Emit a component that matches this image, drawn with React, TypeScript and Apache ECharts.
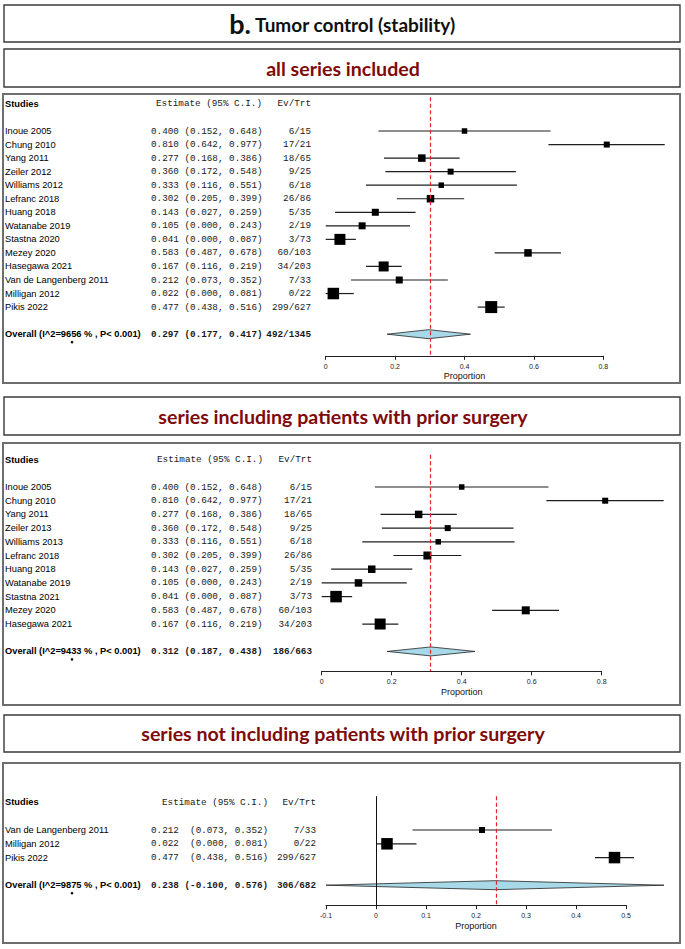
import React, { useEffect, useRef } from "react";
import * as echarts from "echarts";

// ---------- data ----------
const allStudies = ["Inoue 2005", "Chung 2010", "Yang 2011", "Zeiler 2012", "Williams 2012", "Lefranc 2018", "Huang 2018", "Watanabe 2019", "Stastna 2020", "Mezey 2020", "Hasegawa 2021", "Van de Langenberg 2011", "Milligan 2012", "Pikis 2022"];
const allEst = [0.4, 0.81, 0.277, 0.36, 0.333, 0.302, 0.143, 0.105, 0.041, 0.583, 0.167, 0.212, 0.022, 0.477];
const allLow = [0.152, 0.642, 0.168, 0.172, 0.116, 0.205, 0.027, 0.0, 0.0, 0.487, 0.116, 0.073, 0.0, 0.438];
const allHigh = [0.648, 0.977, 0.386, 0.548, 0.551, 0.399, 0.259, 0.243, 0.087, 0.678, 0.219, 0.352, 0.081, 0.516];
const allEvents = ["6/15", "17/21", "18/65", "9/25", "6/18", "26/86", "5/35", "2/19", "3/73", "60/103", "34/203", "7/33", "0/22", "299/627"];
const allWeights = [5.5, 6, 7.5, 6, 5.5, 7.5, 7, 7, 11, 7.5, 10, 7, 11.5, 12];

const priorStudies = ["Inoue 2005", "Chung 2010", "Yang 2011", "Zeiler 2013", "Williams 2013", "Lefranc 2018", "Huang 2018", "Watanabe 2019", "Stastna 2021", "Mezey 2020", "Hasegawa 2021"];
const priorEst = [0.4, 0.81, 0.277, 0.36, 0.333, 0.302, 0.143, 0.105, 0.041, 0.583, 0.167];
const priorLow = [0.152, 0.642, 0.168, 0.172, 0.116, 0.205, 0.027, 0.0, 0.0, 0.487, 0.116];
const priorHigh = [0.648, 0.977, 0.386, 0.548, 0.551, 0.399, 0.259, 0.243, 0.087, 0.678, 0.219];
const priorEvents = ["6/15", "17/21", "18/65", "9/25", "6/18", "26/86", "5/35", "2/19", "3/73", "60/103", "34/203"];
const priorWeights = [5.5, 6, 7.5, 6, 5.5, 8, 7.5, 7.5, 11.5, 8, 11];

const noPriorStudies = ["Van de Langenberg 2011", "Milligan 2012", "Pikis 2022"];
const noPriorEst = [0.212, 0.022, 0.477];
const noPriorLow = [0.073, 0.0, 0.438];
const noPriorHigh = [0.352, 0.081, 0.516];
const noPriorEvents = ["7/33", "0/22", "299/627"];
const noPriorWeights = [6, 11.5, 11.5];

const overallEst = [0.297, 0.312, 0.238];
const overallLow = [0.177, 0.187, -0.1];
const overallHigh = [0.417, 0.438, 0.576];
const overallEvents = ["492/1345", "186/663", "306/682"];
const overallI2 = ["9656", "9433", "9875"];

const mainTitleLetter = "b.";
const mainTitle = "Tumor control (stability)";
const panelTitles = ["all series included", "series including patients with prior surgery", "series not including patients with prior surgery"];
const axisName = "Proportion";

// ---------- layout ----------
const FONT_SANS = '"Liberation Sans", Arial, Helvetica, sans-serif';
const FONT_MONO = '"Liberation Mono", "Courier New", monospace';
const FONT_HEAD = 'Lato, "Open Sans", sans-serif';

const layouts = [
  { left: 325.7, width: 277.6, top: 97.15, height: 258.7, yMin: -2.5, yMax: 16.6, xMin: 0, xMax: 0.8, interval: 0.2, estX: 151, estHeadX: 156, evX: 311, sep: " ", zero: false },
  { left: 321.7, width: 280, top: 454.8, height: 216.5, yMin: -2.35, yMax: 13.45, xMin: 0, xMax: 0.8, interval: 0.2, estX: 151, estHeadX: 157, evX: 312, sep: " ", zero: false },
  { left: 326, width: 300, top: 796.2, height: 109, yMin: -2.45, yMax: 5.45, xMin: -0.1, xMax: 0.5, interval: 0.1, estX: 151, estHeadX: 162, evX: 316, sep: "  ", zero: true },
];

const boxes = [
  { x: 4, y: 5, w: 676, h: 37, kind: "head" },
  { x: 4, y: 49, w: 676, h: 38, kind: "head" },
  { x: 3, y: 94, w: 677, h: 289, kind: "body" },
  { x: 4, y: 397, w: 676, h: 38, kind: "head" },
  { x: 3, y: 443, w: 677, h: 262, kind: "body" },
  { x: 4, y: 715, w: 676, h: 37, kind: "head" },
  { x: 3, y: 763, w: 677, h: 180, kind: "body" },
];
const headerY = [68, 416, 733.5];

const fmt = (v: number) => v.toFixed(3);

function buildPanel(k: number, studies: string[], est: number[], low: number[], high: number[], events: string[], weights: number[]) {
  const L = layouts[k];
  const n = studies.length;
  const oRow = n + 1;
  const rows: any[] = [];
  rows.push({ row: -2, name: "Studies", est: "Estimate (95% C.I.)", ev: "Ev/Trt", head: true });
  studies.forEach((s, i) => {
    rows.push({ row: i, name: s, est: `${fmt(est[i])}${L.sep}(${fmt(low[i])}, ${fmt(high[i])})`, ev: events[i] });
  });
  rows.push({
    row: oRow,
    name: `Overall (I^2=${overallI2[k]} % , P< 0.001)`,
    est: `${fmt(overallEst[k])} (${fmt(overallLow[k])}, ${fmt(overallHigh[k])})`,
    ev: overallEvents[k],
    bold: true,
  });

  const series: any[] = [];
  series.push({
    type: "custom",
    xAxisIndex: k,
    yAxisIndex: k,
    z: 2,
    encode: { x: [0, 1], y: 2 },
    data: est.map((_, i) => [low[i], high[i], i]),
    renderItem: (p: any, api: any) => {
      const a = api.coord([api.value(0), api.value(2)]);
      const b = api.coord([api.value(1), api.value(2)]);
      return { type: "line", shape: { x1: a[0], y1: a[1], x2: b[0], y2: b[1] }, style: { stroke: "#1e1e1e", lineWidth: 1.2 } };
    },
  });
  series.push({
    type: "custom",
    xAxisIndex: k,
    yAxisIndex: k,
    z: 2,
    encode: { x: [0, 1, 2], y: 3 },
    data: [[overallLow[k], overallEst[k], overallHigh[k], oRow]],
    renderItem: (p: any, api: any) => {
      const l = api.coord([api.value(0), api.value(3)]);
      const c = api.coord([api.value(1), api.value(3)]);
      const r = api.coord([api.value(2), api.value(3)]);
      const h = 4.5;
      return {
        type: "polygon",
        shape: { points: [[l[0], l[1]], [c[0], c[1] - h], [r[0], r[1]], [c[0], c[1] + h]] },
        style: { fill: "#a8d9e8", stroke: "#222", lineWidth: 0.8 },
      };
    },
  });
  const mlData: any[] = [{ xAxis: overallEst[k], lineStyle: { type: [4, 2.5], color: "#e3262b", width: 1.2 } }];
  if (L.zero) mlData.push({ xAxis: 0, lineStyle: { type: "solid", color: "#111", width: 1 } });
  series.push({
    type: "scatter",
    xAxisIndex: k,
    yAxisIndex: k,
    symbol: "rect",
    clip: false,
    z: 4,
    symbolSize: (v: number[]) => v[2],
    itemStyle: { color: "#000", opacity: 1 },
    data: est.map((e, i) => [e, i, weights[i]]),
    markLine: { silent: true, symbol: "none", label: { show: false }, data: mlData },
  });
  series.push({
    type: "custom",
    xAxisIndex: k,
    yAxisIndex: k,
    z: 5,
    encode: { x: 0, y: 1 },
    data: rows.map((r) => [0, r.row]),
    renderItem: (p: any, api: any) => {
      const r = rows[p.dataIndex];
      const y = api.coord([0, r.row])[1];
      const bold = r.bold ? "bold" : "normal";
      const children: any[] = [
        { type: "text", x: 5, y, style: { text: r.name, fill: "#000", fontSize: 9.3, fontFamily: FONT_SANS, fontWeight: r.head || r.bold ? "bold" : "normal", align: "left", verticalAlign: "middle" } },
        { type: "text", x: r.head ? L.estHeadX : L.estX, y, style: { text: r.est, fill: "#1a1a1a", fontSize: 9.3, fontFamily: FONT_MONO, fontWeight: bold, align: "left", verticalAlign: "middle" } },
        { type: "text", x: L.evX, y, style: { text: r.ev, fill: "#1a1a1a", fontSize: 9.3, fontFamily: FONT_MONO, fontWeight: bold, align: "right", verticalAlign: "middle" } },
      ];
      if (r.bold) children.push({ type: "circle", shape: { cx: 72, cy: y + 8, r: 1.3 }, style: { fill: "#111" } });
      return { type: "group", children };
    },
  });

  const grid = { left: L.left, top: L.top, width: L.width, height: L.height, containLabel: false };
  const xAxis = {
    type: "value",
    gridIndex: k,
    min: L.xMin,
    max: L.xMax,
    interval: L.interval,
    axisLine: { show: true, onZero: false, lineStyle: { color: "#222", width: 1 } },
    axisTick: { show: true, length: 4, lineStyle: { color: "#222" } },
    axisLabel: { fontSize: 7, color: "#222", margin: 7, fontFamily: FONT_SANS },
    splitLine: { show: false },
    name: axisName,
    nameLocation: "middle",
    nameGap: 16,
    nameTextStyle: { fontSize: 9, color: "#111", fontFamily: FONT_SANS },
  };
  const yAxis = { type: "value", gridIndex: k, min: L.yMin, max: L.yMax, inverse: true, show: false, splitLine: { show: false } };
  return { grid, xAxis, yAxis, series };
}

export default function App() {
  const ref = useRef<HTMLDivElement>(null);
  useEffect(() => {
    document.body.style.margin = "0";
    if (!ref.current) return;
    const chart = echarts.init(ref.current, undefined, { renderer: "svg" });
    const panels = [
      buildPanel(0, allStudies, allEst, allLow, allHigh, allEvents, allWeights),
      buildPanel(1, priorStudies, priorEst, priorLow, priorHigh, priorEvents, priorWeights),
      buildPanel(2, noPriorStudies, noPriorEst, noPriorLow, noPriorHigh, noPriorEvents, noPriorWeights),
    ];
    const graphic: any[] = boxes.map((b) => ({
      type: "rect",
      z: 0,
      shape: { x: b.x, y: b.y, width: b.w, height: b.h },
      style: { fill: "none", stroke: b.kind === "head" ? "#3a3a3a" : "#6e6e6e", lineWidth: b.kind === "head" ? 1.4 : 2 },
    }));
    graphic.push({ type: "text", x: 251, y: 23, style: { text: mainTitleLetter, fill: "#111", fontSize: 27, fontWeight: "bold", fontFamily: FONT_HEAD, align: "right", verticalAlign: "middle" } });
    graphic.push({ type: "text", x: 255, y: 24.5, style: { text: mainTitle, fill: "#111", fontSize: 19, fontWeight: "bold", fontFamily: FONT_HEAD, align: "left", verticalAlign: "middle" } });
    panelTitles.forEach((t, i) => {
      graphic.push({ type: "text", x: 343, y: headerY[i], style: { text: t, fill: "#7e0a0a", fontSize: 19.6, fontWeight: "bold", fontFamily: FONT_HEAD, align: "center", verticalAlign: "middle" } });
    });
    chart.setOption({
      animation: false,
      backgroundColor: "#fff",
      grid: panels.map((p) => p.grid),
      xAxis: panels.map((p) => p.xAxis),
      yAxis: panels.map((p) => p.yAxis),
      series: panels.flatMap((p) => p.series),
      graphic,
    });
    return () => chart.dispose();
  }, []);
  return <div ref={ref} style={{ width: 685, height: 949 }} />;
}
